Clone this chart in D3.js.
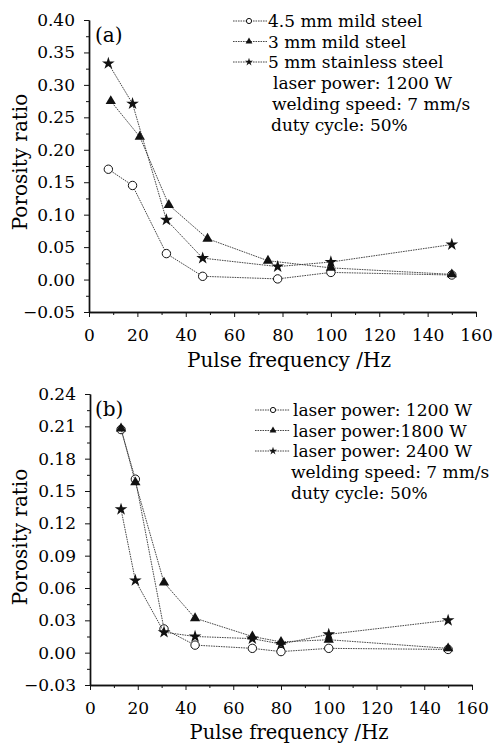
<!DOCTYPE html>
<html>
  <head>
    <meta charset="utf-8">
    <title>Porosity ratio vs pulse frequency</title>
    <script src="https://cdn.jsdelivr.net/npm/d3@7/dist/d3.min.js"></script>
    <style>
      body { margin: 0; background: #fff; }
      svg { display: block; }
      text { font-family: "DejaVu Serif", serif; fill: #000; }
      .axis path, .axis line { stroke: #111; }
      .axis path { stroke-width: 1.4; }
      .axis text { font-family: "DejaVu Serif", serif; font-size: 17px; fill: #000; }
      .series { fill: none; stroke: #333; stroke-width: 0.9; stroke-dasharray: 1.6, 0.9; }
      .title { font-size: 20px; }
      .legend { font-size: 17px; }
    </style>
  </head>

  <body>
    <svg id="chart" width="496" height="743"></svg>

    <script>
      // panel (a) data
      freqsA = [8, 18, 32, 47, 78, 100, 150];
      freqsA3mm = [9, 21, 33, 49, 74, 100, 150];
      mildSteel45 = [0.170, 0.145, 0.040, 0.005, 0.001, 0.011, 0.007];
      mildSteel3 = [0.275, 0.220, 0.115, 0.063, 0.029, 0.018, 0.008];
      stainless5 = [0.333, 0.271, 0.092, 0.033, 0.020, 0.027, 0.054];
      yTicksA = [-0.05, 0, 0.05, 0.10, 0.15, 0.20, 0.25, 0.30, 0.35, 0.40];
      legendA = ["4.5 mm mild steel", "3 mm mild steel", "5 mm stainless steel"];
      notesA = ["laser power: 1200 W", "welding speed: 7 mm/s", "duty cycle: 50%"];

      // panel (b) data
      freqsB = [13, 19, 31, 44, 68, 80, 100, 150];
      power1200 = [0.207, 0.161, 0.022, 0.007, 0.004, 0.001, 0.004, 0.003];
      power1800 = [0.208, 0.158, 0.065, 0.032, 0.015, 0.010, 0.012, 0.004];
      power2400 = [0.133, 0.067, 0.019, 0.015, 0.013, 0.008, 0.017, 0.030];
      yTicksB = [-0.03, 0, 0.03, 0.06, 0.09, 0.12, 0.15, 0.18, 0.21, 0.24];
      legendB = ["laser power: 1200 W", "laser power:1800 W", "laser power: 2400 W"];
      notesB = ["welding speed: 7 mm/s", "duty cycle: 50%"];

      xTicks = [0, 20, 40, 60, 80, 100, 120, 140, 160];
      xMinor = [10, 30, 50, 70, 90, 110, 130, 150];
      markers = ["circle", "triangle", "star"];

      chart = d3.select("#chart");

      function zip(xs, ys) {
        return xs.map((d, i) => ({ x: d, y: ys[i] }));
      }

      function drawMarker(g, type, big) {
        if (type == "circle") {
          g.append("circle")
            .attr("r", big ? 4.2 : 2.6)
            .attr("fill", "#fff")
            .attr("stroke", "#111")
            .attr("stroke-width", 1);
        } else {
          let sym = type == "triangle" ? d3.symbolTriangle : d3.symbolStar;
          g.append("path")
            .attr("d", d3.symbol().type(sym).size(big ? (type == "star" ? 50 : 46) : 20)())
            .attr("fill", "#111");
        }
      }

      function drawPanel(p) {
        let x = d3.scaleLinear().domain([0, 160]).range(p.xRange);
        let y = d3.scaleLinear().domain(p.yDomain).range(p.yRange);
        let g = chart.append("g");

        // minor ticks
        g.append("g")
          .attr("class", "axis")
          .attr("transform", "translate(0," + p.yRange[0] + ")")
          .call(d3.axisBottom(x).tickValues(xMinor).tickSize(3).tickSizeOuter(0).tickFormat(""));
        g.append("g")
          .attr("class", "axis")
          .attr("transform", "translate(" + p.xRange[0] + ",0)")
          .call(d3.axisLeft(y).tickValues(p.yMinor).tickSize(3).tickSizeOuter(0).tickFormat(""));

        // major axes
        g.append("g")
          .attr("class", "axis")
          .attr("transform", "translate(0," + p.yRange[0] + ")")
          .call(d3.axisBottom(x).tickValues(xTicks).tickSize(5).tickSizeOuter(0).tickPadding(p.xPad));
        g.append("g")
          .attr("class", "axis")
          .attr("transform", "translate(" + p.xRange[0] + ",0)")
          .call(d3.axisLeft(y).tickValues(p.yTicks).tickSize(5).tickSizeOuter(0).tickPadding(9)
            .tickFormat(d3.format(".2f")));
        g.selectAll(".axis").attr("font-family", null).attr("font-size", null);

        // series
        let line = d3.line().x(d => x(d.x)).y(d => y(d.y));
        p.series.forEach((s, i) => {
          let data = zip(s.freqs, s.values);
          g.append("path")
            .attr("class", "series")
            .attr("d", line(data));
          g.selectAll(".m" + i)
            .data(data)
            .enter().append("g")
              .attr("transform", d => "translate(" + x(d.x) + "," + y(d.y) + ")")
              .each(function() { drawMarker(d3.select(this), markers[i], true); });
        });

        // titles
        g.append("text")
          .attr("class", "title")
          .attr("transform", "translate(27," + p.yTitle + ") rotate(-90)")
          .attr("text-anchor", "middle")
          .text("Porosity ratio");
        g.append("text")
          .attr("class", "title")
          .attr("x", 289)
          .attr("y", p.xTitle)
          .attr("text-anchor", "middle")
          .style("font-size", p.xTitleSize + "px")
          .text("Pulse frequency /Hz");
        g.append("text")
          .attr("class", "title")
          .attr("x", 95)
          .attr("y", p.labelY)
          .text(p.label);

        // legend
        p.legend.forEach((t, i) => {
          let ly = p.legendY + i * 20.5;
          g.append("line")
            .attr("class", "series")
            .attr("x1", p.legendLine[0])
            .attr("x2", p.legendLine[1])
            .attr("y1", ly - 6)
            .attr("y2", ly - 6);
          let m = g.append("g")
            .attr("transform", "translate(" + p.legendLine[2] + "," + (ly - 6) + ")");
          drawMarker(m, markers[i], false);
          g.append("text")
            .attr("class", "legend")
            .attr("x", p.legendX)
            .attr("y", ly)
            .text(t);
        });
        p.notes.forEach((t, i) => {
          g.append("text")
            .attr("class", "legend")
            .attr("x", p.notesX[i])
            .attr("y", p.legendY + (p.legend.length + i) * 20.8)
            .text(t);
        });
      }

      drawPanel({
        xRange: [89, 476],
        yDomain: [-0.05, 0.40],
        yRange: [312, 20],
        yTicks: yTicksA,
        yMinor: yTicksA.slice(0, -1).map(d => d + 0.025),
        xPad: 12,
        yTitle: 162,
        xTitle: 367,
        xTitleSize: 20,
        label: "(a)",
        labelY: 42,
        series: [
          { freqs: freqsA, values: mildSteel45 },
          { freqs: freqsA3mm, values: mildSteel3 },
          { freqs: freqsA, values: stainless5 }
        ],
        legend: legendA,
        notes: notesA,
        legendY: 27,
        legendLine: [233, 267, 249],
        legendX: 268,
        notesX: [273, 272, 271]
      });

      drawPanel({
        xRange: [90, 472],
        yDomain: [-0.03, 0.24],
        yRange: [685, 394],
        yTicks: yTicksB,
        yMinor: yTicksB.slice(0, -1).map(d => d + 0.015),
        xPad: 12,
        yTitle: 537,
        xTitle: 739,
        xTitleSize: 19.5,
        label: "(b)",
        labelY: 416,
        series: [
          { freqs: freqsB, values: power1200 },
          { freqs: freqsB, values: power1800 },
          { freqs: freqsB, values: power2400 }
        ],
        legend: legendB,
        notes: notesB,
        legendY: 416,
        legendLine: [255, 290, 273],
        legendX: 293,
        notesX: [291, 291]
      });
    </script>
  </body>
</html>
